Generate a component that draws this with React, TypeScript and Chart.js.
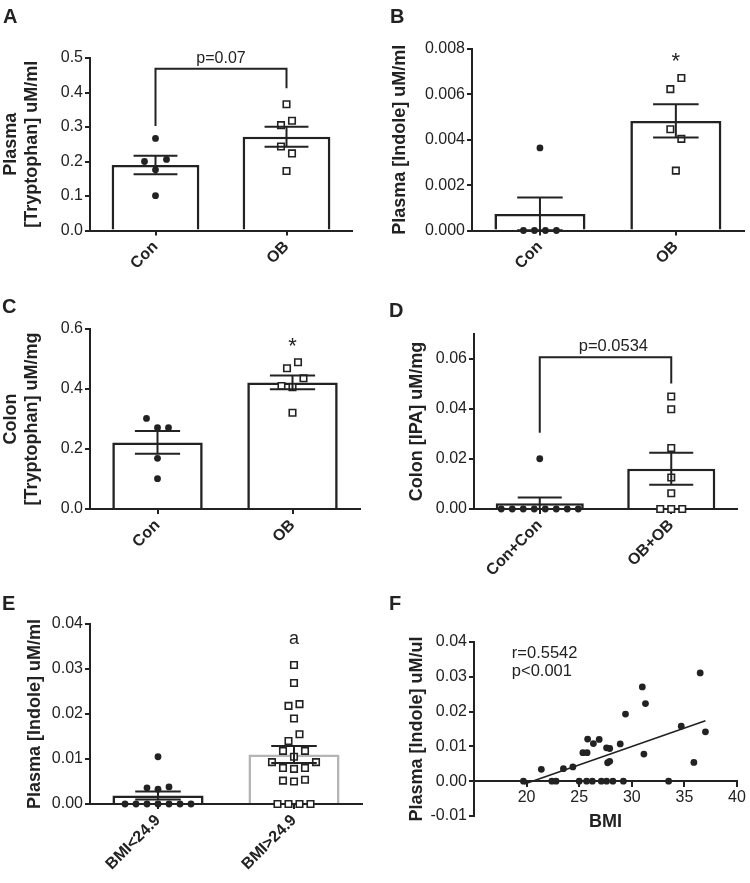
import React, { useEffect, useRef } from 'react';
import { Chart, registerables } from 'chart.js';

Chart.register(...registerables);

// ---------------- data ----------------
const labelsA = ['Con', 'OB'];
const conA = [0.2, 0.176, 0.206, 0.267, 0.101];
const obA = [0.366, 0.3055, 0.318, 0.2436, 0.2234, 0.1725];
const meanA = [0.19, 0.272];
const semA = [0.027, 0.029];

const labelsB = ['Con', 'OB'];
const conB = [0, 0, 0, 0, 0.00364];
const obB = [0.00623, 0.00672, 0.00446, 0.00404, 0.00264];
const meanB = [0.00073, 0.00483];
const semB = [0.00072, 0.00073];

const labelsC = ['Con', 'OB'];
const conC = [0.302, 0.271, 0.271, 0.169, 0.101];
const obC = [0.469, 0.489, 0.41, 0.406, 0.436, 0.321];
const meanC = [0.222, 0.422];
const semC = [0.038, 0.023];

const labelsD = ['Con+Con', 'OB+OB'];
const conD = [0, 0, 0, 0, 0, 0, 0, 0, 0.0201];
const obD = [0.045, 0.0399, 0.0244, 0.0126, 0.0063, 0, 0, 0];
const meanD = [0.0023, 0.0161];
const semD = [0.0023, 0.0064];

const labelsE = ['BMI<24.9', 'BMI>24.9'];
const conE = [0.0105, 0.0036, 0.0033, 0.0038, 0, 0, 0, 0, 0, 0, 0];
const obE = [0.0309, 0.0269, 0.0218, 0.0222, 0.019, 0.014, 0.0155, 0.0093, 0.0118, 0.0105, 0.0118, 0.0093,
  0.008, 0.0078, 0.008, 0.0052, 0.005, 0.0054, 0, 0, 0, 0];
const meanE = [0.0019, 0.011];
const semE = [0.0009, 0.0019];

const bmiF = [19.7, 21.4, 22.4, 22.8, 23.5, 24.4, 25.0, 25.35, 25.75, 25.8, 25.7, 26.25, 26.35, 26.9, 27.1,
  27.6, 27.9, 27.7, 27.9, 27.6, 28.2, 28.9, 29.2, 29.4, 31.0, 31.3, 31.15, 33.5, 34.7, 35.9, 36.5, 37.0];
const indoleF = [0, 0.0034, 0, 0, 0.0036, 0.0041, 0, 0.0082, 0.0082, 0.0121, 0, 0, 0.0108, 0.012, 0,
  0.0096, 0.0094, 0.0053, 0.0057, 0, 0, 0.0107, 0, 0.0193, 0.0271, 0.0223, 0.0078, 0, 0.0158, 0.0054, 0.0311, 0.0142];
const regX = [19.8, 37.0];
const regY = [-0.0008, 0.0174];

// ---------------- styling ----------------
const FONT = "'Liberation Sans', Arial, Helvetica, sans-serif";
const INK = '#222';

const swarmPlugin = {
  id: 'swarm',
  afterDatasetsUpdate(chart: any) {
    chart.data.datasets.forEach((ds: any, i: number) => {
      if (!ds.swarm) return;
      const pts = chart.getDatasetMeta(i).data;
      const order = pts.map((_p: any, k: number) => k).sort((a: number, b: number) => pts[a].y - pts[b].y || a - b);
      const groups: number[][] = [];
      let cur: number[] = [];
      let anchor: number | null = null;
      order.forEach((k: number) => {
        if (anchor !== null && Math.abs(pts[k].y - anchor) < 11.5) cur.push(k);
        else {
          if (cur.length) groups.push(cur);
          cur = [k];
          anchor = pts[k].y;
        }
      });
      if (cur.length) groups.push(cur);
      groups.forEach((g) => {
        g.sort((a, b) => a - b);
        g.forEach((k, j) => {
          pts[k].x += (j - (g.length - 1) / 2) * 11;
        });
      });
    });
  },
};

const errorPlugin = {
  id: 'errbars',
  afterDatasetsDraw(chart: any) {
    const ctx = chart.ctx;
    chart.data.datasets.forEach((ds: any, i: number) => {
      if (!ds.errors) return;
      const meta = chart.getDatasetMeta(i);
      const ys = chart.scales[meta.yAxisID];
      meta.data.forEach((bar: any, k: number) => {
        const m = ds.data[k];
        const e = ds.errors[k];
        const hi = ys.getPixelForValue(m + e);
        const loVal = Math.max(m - e, ys.min);
        const lo = ys.getPixelForValue(loVal);
        const half = bar.width * 0.25;
        ctx.save();
        ctx.strokeStyle = INK;
        ctx.lineWidth = 2;
        ctx.beginPath();
        ctx.moveTo(bar.x, hi);
        ctx.lineTo(bar.x, lo);
        ctx.moveTo(bar.x - half, hi);
        ctx.lineTo(bar.x + half, hi);
        if (m - e > ys.min) {
          ctx.moveTo(bar.x - half, lo);
          ctx.lineTo(bar.x + half, lo);
        }
        ctx.stroke();
        ctx.restore();
      });
    });
  },
};

function makeAnnot(a: any) {
  return {
    id: 'annot',
    afterDraw(chart: any) {
      const { ctx } = chart;
      const x = chart.scales.x;
      const y = chart.scales.y;
      ctx.save();
      (a.brackets || []).forEach((b: any) => {
        const x0 = x.getPixelForValue(b.from);
        const x1 = x.getPixelForValue(b.to);
        ctx.strokeStyle = INK;
        ctx.lineWidth = 2;
        ctx.beginPath();
        ctx.moveTo(x0, y.getPixelForValue(b.left));
        ctx.lineTo(x0, y.getPixelForValue(b.top));
        ctx.lineTo(x1, y.getPixelForValue(b.top));
        ctx.lineTo(x1, y.getPixelForValue(b.right));
        ctx.stroke();
      });
      (a.texts || []).forEach((t: any) => {
        ctx.font = `${t.weight || 'normal'} ${t.size}px ${FONT}`;
        ctx.fillStyle = INK;
        ctx.textAlign = t.align || 'center';
        ctx.textBaseline = 'middle';
        ctx.fillText(t.text, x.getPixelForValue(t.x), y.getPixelForValue(t.y));
      });
      ctx.restore();
    },
  };
}

const gridOpts = {
  display: true,
  offset: false,
  drawOnChartArea: false,
  drawTicks: true,
  tickLength: 5,
  color: INK,
  lineWidth: 2,
};
const borderOpts = { display: true, color: INK, width: 2 };

function barConfig(o: any) {
  const pts = (vals: number[], label: string) => vals.map((v) => ({ x: label, y: v }));
  return {
    type: 'bar',
    data: {
      labels: o.labels,
      datasets: [
        {
          type: 'bar',
          data: o.means,
          errors: o.sems,
          backgroundColor: '#fff',
          borderColor: o.barColors || [INK, INK],
          borderWidth: 2.6,
          borderSkipped: 'bottom',
          barPercentage: 0.67,
          categoryPercentage: 1,
          order: 3,
        },
        {
          type: 'line',
          data: pts(o.con, o.labels[0]),
          showLine: false,
          pointStyle: 'circle',
          pointRadius: 3.4,
          pointBackgroundColor: INK,
          pointBorderColor: INK,
          pointBorderWidth: 0,
          swarm: true,
          clip: false,
          order: 1,
        },
        {
          type: 'line',
          data: pts(o.ob, o.labels[1]),
          showLine: false,
          pointStyle: 'rect',
          pointRadius: 4.6,
          pointBackgroundColor: '#fff',
          pointBorderColor: INK,
          pointBorderWidth: 1.6,
          swarm: true,
          clip: false,
          order: 1,
        },
      ],
    },
    options: {
      responsive: false,
      animation: false,
      events: [],
      layout: { padding: o.pad },
      plugins: { legend: { display: false }, tooltip: { enabled: false } },
      scales: {
        x: {
          type: 'category',
          offset: true,
          grid: gridOpts,
          border: borderOpts,
          ticks: {
            autoSkip: false,
            minRotation: 45,
            maxRotation: 45,
            padding: 2,
            color: INK,
            font: { family: FONT, size: 16, weight: 'bold' },
          },
          afterFit: (s: any) => {
            s.height = o.xHeight;
          },
        },
        y: {
          type: 'linear',
          min: o.min,
          max: o.max,
          bounds: 'data',
          grid: gridOpts,
          border: borderOpts,
          ticks: {
            stepSize: o.step,
            includeBounds: false,
            padding: 2,
            color: INK,
            font: { family: FONT, size: 16 },
            callback: (v: any) => Number(v).toFixed(o.dec),
          },
          afterBuildTicks: (s: any) => {
            const lim = o.tickMax !== undefined ? o.tickMax : o.max;
            s.ticks = s.ticks.filter((t: any) => t.value <= lim + 1e-9);
          },
          title: {
            display: true,
            text: o.title,
            color: INK,
            font: { family: FONT, size: 18, weight: 'bold' },
            padding: { top: o.titlePad, bottom: 0 },
          },
          afterFit: (s: any) => {
            s.width = o.yWidth;
          },
        },
      },
    },
    plugins: [swarmPlugin, errorPlugin, makeAnnot(o.annot || {})],
  };
}

const configA = () =>
  barConfig({
    labels: labelsA, con: conA, ob: obA, means: meanA, sems: semA,
    min: 0, max: 0.5, step: 0.1, dec: 1,
    title: ['Plasma', '[Tryptophan] uM/ml'], titlePad: 0, yWidth: 90, xHeight: 59.5,
    pad: { top: 58, right: 23, left: 0, bottom: 0 },
    annot: {
      brackets: [{ from: 0, to: 1, left: 0.303, top: 0.469, right: 0.412 }],
      texts: [{ text: 'p=0.07', x: 0.5, y: 0.497, size: 16 }],
    },
  });

const configB = () =>
  barConfig({
    labels: labelsB, con: conB, ob: obB, means: meanB, sems: semB,
    min: 0, max: 0.008, step: 0.002, dec: 3,
    title: 'Plasma [Indole] uM/ml', titlePad: 14.7, yWidth: 97, xHeight: 59.5,
    pad: { top: 49, right: 0, left: 0, bottom: 0 },
    annot: { texts: [{ text: '*', x: 1, y: 0.00743, size: 22 }] },
  });

const configC = () =>
  barConfig({
    labels: labelsC, con: conC, ob: obC, means: meanC, sems: semC,
    min: 0, max: 0.6, step: 0.2, dec: 1,
    title: ['Colon', '[Tryptophan] uM/mg'], titlePad: 0, yWidth: 90, xHeight: 71,
    pad: { top: 39, right: 15, left: 0, bottom: 0 },
    annot: { texts: [{ text: '*', x: 1, y: 0.541, size: 22 }] },
  });

const configD = () =>
  barConfig({
    labels: labelsD, con: conD, ob: obD, means: meanD, sems: semD,
    min: 0, max: 0.07, tickMax: 0.06, step: 0.02, dec: 2,
    title: 'Colon [IPA] uM/mg', titlePad: 31, yWidth: 99, xHeight: 71,
    pad: { top: 44, right: 13, left: 0, bottom: 0 },
    annot: {
      brackets: [{ from: 0, to: 1, left: 0.0305, top: 0.0607, right: 0.0502 }],
      texts: [{ text: 'p=0.0534', x: 0.56, y: 0.0649, size: 16.5 }],
    },
  });

const configE = () =>
  barConfig({
    labels: labelsE, con: conE, ob: obE, means: meanE, sems: semE,
    min: 0, max: 0.04, step: 0.01, dec: 2,
    title: 'Plasma [Indole] uM/ml', titlePad: 24, yWidth: 90, xHeight: 79,
    pad: { top: 44, right: 13, left: 0, bottom: 0 },
    barColors: [INK, '#b5b5b5'],
    annot: { texts: [{ text: 'a', x: 1, y: 0.0366, size: 18 }] },
  });

const configF = () => ({
  type: 'scatter',
  data: {
    datasets: [
      {
        type: 'scatter',
        data: bmiF.map((b, i) => ({ x: b, y: indoleF[i] })),
        pointRadius: 3.4,
        pointBackgroundColor: INK,
        pointBorderColor: INK,
        pointBorderWidth: 0,
        clip: false,
        order: 1,
      },
      {
        type: 'line',
        data: regX.map((x, i) => ({ x, y: regY[i] })),
        borderColor: INK,
        borderWidth: 1.6,
        pointRadius: 0,
        fill: false,
        order: 2,
      },
    ],
  },
  options: {
    responsive: false,
    animation: false,
    events: [],
    layout: { padding: { top: 62, right: 13, left: 0, bottom: 67 } },
    plugins: { legend: { display: false }, tooltip: { enabled: false } },
    scales: {
      x: {
        type: 'linear',
        min: 15,
        max: 40,
        position: { y: 0 },
        grid: gridOpts,
        border: borderOpts,
        ticks: {
          stepSize: 5,
          autoSkip: false,
          maxRotation: 0,
          padding: 2,
          color: INK,
          font: { family: FONT, size: 16 },
          callback: (v: any) => (v === 15 ? '' : String(v)),
        },
        title: {
          display: true,
          text: 'BMI',
          color: INK,
          font: { family: FONT, size: 18, weight: 'bold' },
          padding: { top: 0, bottom: 0 },
        },
        afterFit: (s: any) => {
          s.height = 52;
        },
      },
      y: {
        type: 'linear',
        min: -0.01,
        max: 0.04,
        bounds: 'data',
        grid: gridOpts,
        border: borderOpts,
        ticks: {
          stepSize: 0.01,
          padding: 2,
          color: INK,
          font: { family: FONT, size: 16 },
          callback: (v: any) => Number(v).toFixed(2),
        },
        title: {
          display: true,
          text: 'Plasma [Indole] uM/ul',
          color: INK,
          font: { family: FONT, size: 18, weight: 'bold' },
          padding: { top: 31, bottom: 0 },
        },
        afterFit: (s: any) => {
          s.width = 99;
        },
      },
    },
  },
  plugins: [
    makeAnnot({
      texts: [
        { text: 'r=0.5542', x: 18.6, y: 0.0368, size: 16.5, align: 'left' },
        { text: 'p<0.001', x: 18.6, y: 0.0315, size: 16.5, align: 'left' },
      ],
    }),
  ],
});

function Panel({ left, top, width, height, make }: any) {
  const ref = useRef<HTMLCanvasElement>(null);
  useEffect(() => {
    const chart = new Chart(ref.current as HTMLCanvasElement, make() as any);
    return () => chart.destroy();
  }, []);
  return (
    <canvas
      ref={ref}
      width={width}
      height={height}
      style={{ position: 'absolute', left, top, width, height }}
    />
  );
}

const panels = [
  { key: 'A', left: 0, top: 0, width: 375, height: 290, make: configA, lx: 3, ly: 5.5 },
  { key: 'B', left: 375, top: 0, width: 375, height: 290, make: configB, lx: 390, ly: 5.5 },
  { key: 'C', left: 0, top: 290, width: 375, height: 290, make: configC, lx: 2, ly: 295.5 },
  { key: 'D', left: 375, top: 290, width: 375, height: 290, make: configD, lx: 389, ly: 299.5 },
  { key: 'E', left: 0, top: 580, width: 375, height: 303, make: configE, lx: 2, ly: 592.5 },
  { key: 'F', left: 375, top: 580, width: 375, height: 303, make: configF, lx: 389, ly: 592.5 },
];

export default function App() {
  return (
    <div
      style={{
        position: 'absolute',
        left: 0,
        top: 0,
        width: 750,
        height: 883,
        background: '#fff',
        overflow: 'hidden',
      }}
    >
      {panels.map((p) => (
        <Panel key={p.key} left={p.left} top={p.top} width={p.width} height={p.height} make={p.make} />
      ))}
      {panels.map((p) => (
        <div
          key={'l' + p.key}
          style={{
            position: 'absolute',
            left: p.lx,
            top: p.ly,
            fontFamily: FONT,
            fontWeight: 'bold',
            fontSize: 20,
            lineHeight: '20px',
            color: INK,
          }}
        >
          {p.key}
        </div>
      ))}
    </div>
  );
}
